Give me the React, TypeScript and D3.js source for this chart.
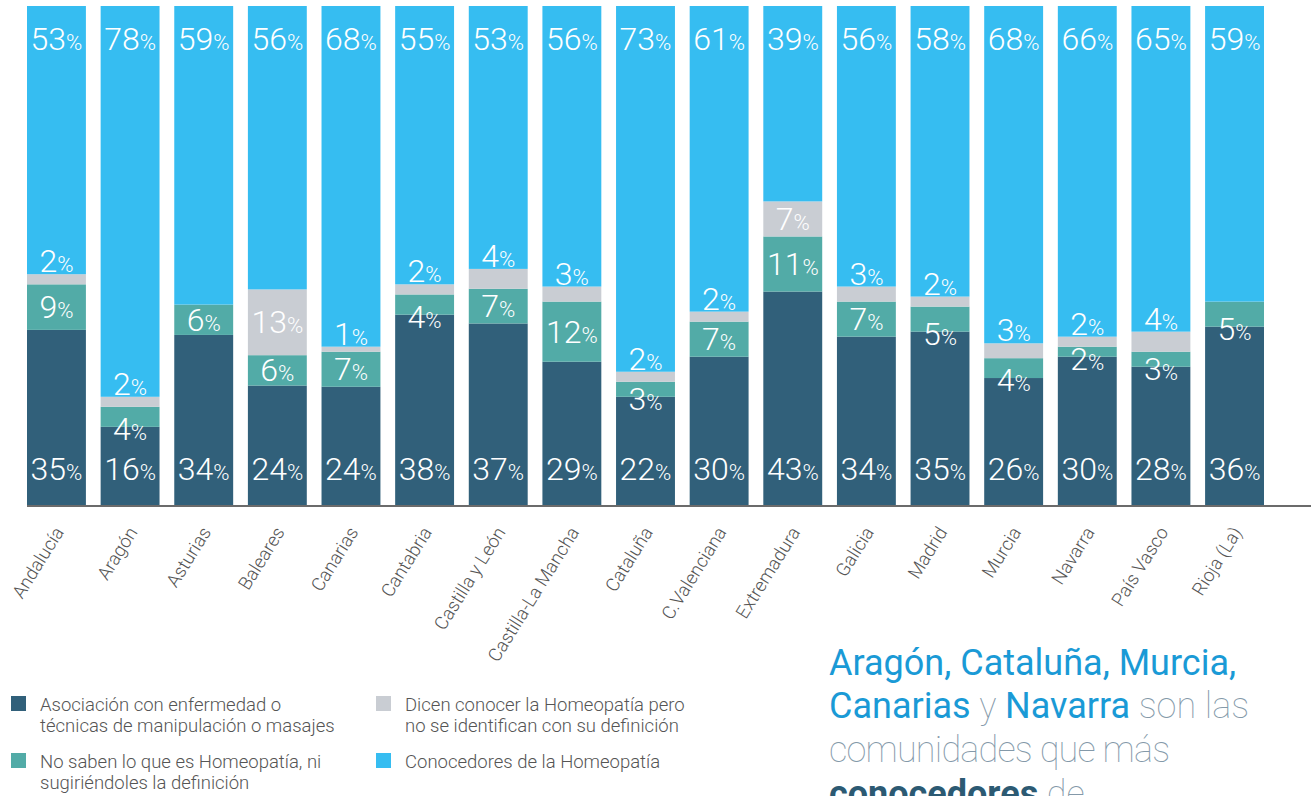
import React from "react";
import * as d3 from "d3";

const regions = [
  "Andalucía", "Aragón", "Asturias", "Baleares", "Canarias", "Cantabria",
  "Castilla y León", "Castilla-La Mancha", "Cataluña", "C.Valenciana",
  "Extremadura", "Galicia", "Madrid", "Murcia", "Navarra", "País Vasco", "Rioja (La)",
];
const asociacion = [35, 16, 34, 24, 24, 38, 37, 29, 22, 30, 43, 34, 35, 26, 30, 28, 36];
const noSaben = [9, 4, 6, 6, 7, 4, 7, 12, 3, 7, 11, 7, 5, 4, 2, 3, 5];
const dicenConocer = [2, 2, 0, 13, 1, 2, 4, 3, 2, 2, 7, 3, 2, 3, 2, 4, 0];
const conocedores = [53, 78, 59, 56, 68, 55, 53, 56, 73, 61, 39, 56, 58, 68, 66, 65, 59];

const seriesKeys = ["asociacion", "noSaben", "dicen", "conocedores"];
const seriesColors = ["#31607a", "#52aba7", "#c9cdd3", "#36bdf1"];
const legendLabels = [
  ["Asociación con enfermedad o", "técnicas de manipulación o masajes"],
  ["No saben lo que es Homeopatía, ni", "sugiriéndoles la definición"],
  ["Dicen conocer la Homeopatía pero", "no se identifican con su definición"],
  ["Conocedores de la Homeopatía"],
];

const W = 1316;
const H = 796;
const LIGHT = "Roboto, 'Helvetica Neue', Arial, sans-serif";

export default function App() {
  const rows = regions.map((r, i) => ({
    region: r,
    asociacion: asociacion[i],
    noSaben: noSaben[i],
    dicen: dicenConocer[i],
    conocedores: conocedores[i],
  }));
  const stack = d3.stack<any>().keys(seriesKeys).offset(d3.stackOffsetExpand);
  const stacked = stack(rows);

  const x = d3.scaleBand<string>().domain(regions).range([27, 1264]).paddingInner(0.2).paddingOuter(0);
  const y = d3.scaleLinear().domain([0, 1]).range([507, 6]);

  const labelBaseline = (ki: number, y0: number, y1: number) => {
    const top = y(y1);
    const bottom = y(y0);
    const h = bottom - top;
    const mid = (top + bottom) / 2;
    if (ki === 0) return y(0) - 27;
    if (ki === 3) return y(1) + 44;
    if (h >= 30) return mid + 11;
    if (ki === 1) return bottom + 13;
    return top - 2;
  };

  return (
    <svg width={W} height={H} style={{ position: "absolute", left: 0, top: 0, background: "#fff" }}>
      {stacked.map((s, ki) => (
        <g key={s.key}>
          {s.map((d, i) => {
            const bx = x(regions[i])!;
            return (
              <rect
                key={i}
                x={bx}
                width={x.bandwidth()}
                y={y(d[1])}
                height={Math.max(0, y(d[0]) - y(d[1]))}
                fill={seriesColors[ki]}
              />
            );
          })}
        </g>
      ))}
      <line x1={27} x2={1311} y1={506} y2={506} stroke="#6b6b6b" strokeWidth={2} />
      {stacked.map((s, ki) => (
        <g key={"l" + s.key}>
          {s.map((d, i) => {
            const v = (d.data as any)[s.key] as number;
            if (!v) return null;
            const cx = x(regions[i])! + x.bandwidth() / 2;
            return (
              <text
                key={i}
                x={cx}
                y={labelBaseline(ki, d[0], d[1])}
                textAnchor="middle"
                fill="#ffffff"
                fontFamily={LIGHT}
                fontWeight={300}
              >
                <tspan fontSize={32}>{v}</tspan>
                <tspan fontSize={22}>%</tspan>
              </text>
            );
          })}
        </g>
      ))}
      {regions.map((r) => {
        const cx = x(r)! + x.bandwidth() / 2 + 8;
        return (
          <text
            key={r}
            transform={`translate(${cx},532) rotate(-58)`}
            textAnchor="end"
            fontFamily={LIGHT}
            fontWeight={300}
            fontSize={18.5}
            fill="#555555"
          >
            {r}
          </text>
        );
      })}
      {legendLabels.map((lines, i) => {
        const col = Math.floor(i / 2);
        const row = i % 2;
        const lx = col === 0 ? 11 : 376;
        const ly = row === 0 ? 696 : 753;
        return (
          <g key={i}>
            <rect x={lx} y={ly} width={15} height={15} fill={seriesColors[i]} />
            {lines.map((t, j) => (
              <text
                key={j}
                x={lx + 29}
                y={ly + 15 + j * 21}
                fontFamily={LIGHT}
                fontWeight={300}
                fontSize={18.5}
                fill="#555555"
              >
                {t}
              </text>
            ))}
          </g>
        );
      })}
      <g fontFamily={LIGHT} fontSize={36}>
        <text x={829} y={675} fill="#1a9ad6" fontWeight={400}>Aragón, Cataluña, Murcia,</text>
        <text x={829} y={718}>
          <tspan fill="#1a9ad6" fontWeight={400}>Canarias</tspan>
          <tspan fill="#8499a9" fontWeight={100}> y </tspan>
          <tspan fill="#1a9ad6" fontWeight={400}>Navarra</tspan>
          <tspan fill="#8499a9" fontWeight={100}> son las</tspan>
        </text>
        <text x={829} y={762} fill="#8499a9" fontWeight={100} letterSpacing={-0.8}>comunidades que más</text>
        <text x={829} y={806}>
          <tspan fill="#2c5a73" fontWeight={700}>conocedores</tspan>
          <tspan fill="#8499a9" fontWeight={100}> de</tspan>
        </text>
      </g>
    </svg>
  );
}
